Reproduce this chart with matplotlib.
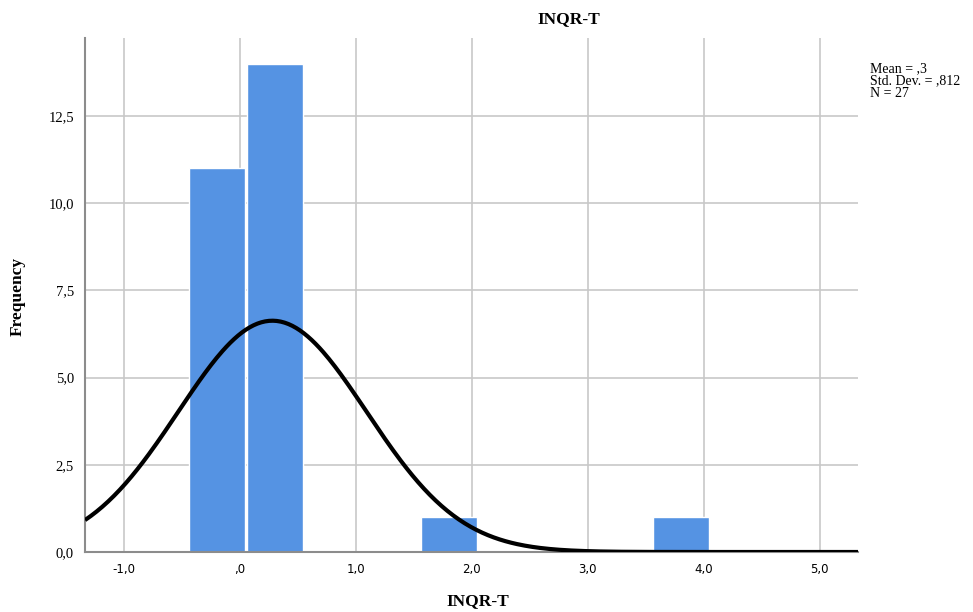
import numpy as np
import matplotlib.pyplot as plt

# histogram counts (SPSS bins, width 0.5)
bin_starts = [-0.44, 0.06, 0.56, 1.06, 1.56, 2.06, 2.56, 3.06, 3.56]
counts = [11, 14, 0, 0, 1, 0, 0, 0, 1]
bin_width = 0.5

mean = 0.28
sd = 0.812
n = 27

x_ticks = [-1, 0, 1, 2, 3, 4, 5]
x_labels = ['-1,0', ',0', '1,0', '2,0', '3,0', '4,0', '5,0']
y_ticks = [0, 2.5, 5, 7.5, 10, 12.5]
y_labels = ['0,0', '2,5', '5,0', '7,5', '10,0', '12,5']

fig = plt.figure(figsize=(9.73, 6.12), dpi=100)
ax = fig.add_axes([85/973, 1-552/612, (858-85)/973, (552-38)/612])

ax.bar(bin_starts, counts, width=bin_width * 0.97, align='edge', color='#5593e3',
       edgecolor='white', linewidth=1.0, zorder=2)

xs = np.linspace(-1.336, 5.33, 400)
ys = n * bin_width * np.exp(-0.5 * ((xs - mean) / sd) ** 2) / (sd * np.sqrt(2 * np.pi))
ax.plot(xs, ys, color='black', linewidth=3, zorder=3, solid_capstyle='butt')

ax.set_xlim(-1.336, 5.33)
ax.set_ylim(0, 14.74)
ax.set_xticks(x_ticks)
ax.set_xticklabels(x_labels, fontfamily='DejaVu Sans', fontsize=8.5)
ax.set_yticks(y_ticks)
ax.set_yticklabels(y_labels, fontfamily='Liberation Serif', fontsize=10.5)
ax.tick_params(length=0, pad=8)

ax.grid(True, color='#c8c8c8', linewidth=1.2, zorder=0)
ax.set_axisbelow(True)
for s in ['top', 'right']:
    ax.spines[s].set_visible(False)
ax.spines['left'].set_color('#8c8c8c')
ax.spines['bottom'].set_color('#8c8c8c')
ax.spines['left'].set_linewidth(1.5)
ax.spines['bottom'].set_linewidth(1.5)

fig.text(569/973, 1-19/612, 'INQR-T', ha='center', va='center',
         fontfamily='Liberation Serif', fontweight='bold', fontsize=12.5)
fig.text(478/973, 1-601/612, 'INQR-T', ha='center', va='center',
         fontfamily='Liberation Serif', fontweight='bold', fontsize=12.5)
fig.text(18/973, 1-296/612, 'Frequency', ha='center', va='center', rotation=90,
         fontfamily='Liberation Serif', fontweight='bold', fontsize=12.5)
fig.text(870/973, 1-62/612, 'Mean = ,3\nStd. Dev. = ,812\nN = 27', ha='left', va='top',
         fontfamily='Liberation Serif', fontsize=10, linespacing=0.95)

fig.savefig('out.png', dpi=100)
